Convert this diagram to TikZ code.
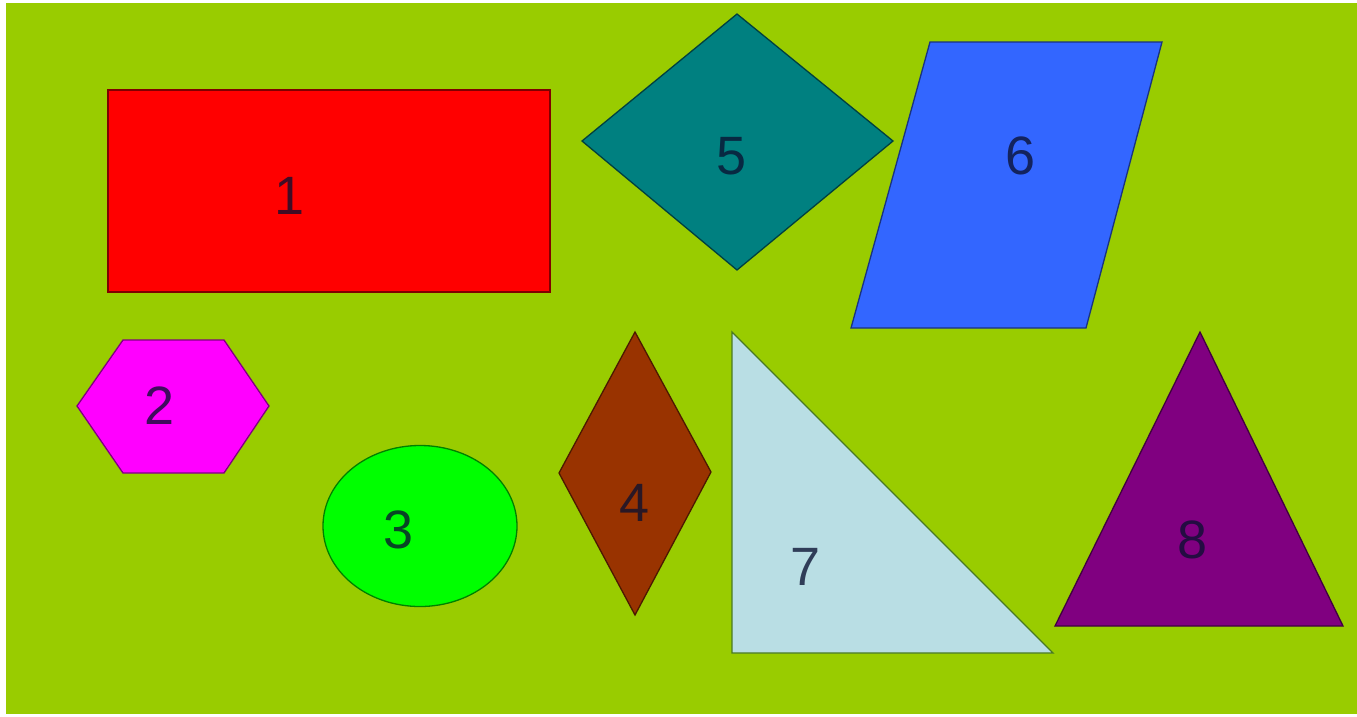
\documentclass[tikz,border=0pt]{standalone}
\usepackage{fontspec}
\setmainfont{Liberation Sans}
\definecolor{bggreen}{HTML}{99CC00}
\definecolor{cred}{HTML}{FF0000}
\definecolor{cmag}{HTML}{FF00FF}
\definecolor{cgreen}{HTML}{00FF00}
\definecolor{cbrown}{HTML}{993300}
\definecolor{cteal}{HTML}{008080}
\definecolor{cblue}{HTML}{3366FF}
\definecolor{clight}{HTML}{B9DEE4}
\definecolor{cpurple}{HTML}{800080}
\definecolor{txtnavy}{HTML}{0A1030}
\definecolor{edgeolive}{HTML}{4A7A20}
\tikzset{
  shp/.style={fill=#1, draw=#1!50!black, line width=1.3pt, line join=miter},
  lbl/.style={font=\fontsize{54}{60}\selectfont, text=#1!22!txtnavy, inner sep=0pt}
}
\begin{document}
\begin{tikzpicture}[x=1pt,y=-1pt]
\useasboundingbox (0,0) rectangle (1357,716);
\fill[white] (0,0) rectangle (1357,716);
\fill[bggreen] (6,3) rectangle (1357,714);
% 1 rectangle
\path[shp=cred] (108,90) rectangle (550,292);
\node[lbl=cred] (l1) at (290,196) {1};
% 2 hexagon
\path[shp=cmag] (123,340) -- (224,340) -- (269,406) -- (224,473) -- (123,473) -- (77,406) -- cycle;
\node[lbl=cmag] (l2) at (160,406) {2};
% 3 ellipse
\path[shp=cgreen] (420,526) ellipse [x radius=97, y radius=80.5];
\node[lbl=cgreen] (l3) at (399,530) {3};
% 4 rhombus
\path[shp=cbrown] (635,332) -- (711,472) -- (635,615) -- (559,473) -- cycle;
\node[lbl=cbrown] (l4) at (635,503) {4};
% 5 diamond
\path[shp=cteal] (737,14) -- (893,141) -- (737,270) -- (582,141) -- cycle;
\node[lbl=cteal] (l5) at (732,156) {5};
% 6 parallelogram
\path[shp=cblue] (930,42) -- (1162,42) -- (1086,328) -- (851,328) -- cycle;
\node[lbl=cblue] (l6) at (1021,156) {6};
% 7 right triangle
\path[shp=clight, draw=edgeolive] (732,332) -- (1053,653) -- (732,653) -- cycle;
\node[lbl=clight] (l7) at (806,567) {7};
% 8 triangle
\path[shp=cpurple] (1200,332) -- (1343,626) -- (1055,626) -- cycle;
\node[lbl=cpurple] (l8) at (1193,540) {8};
\end{tikzpicture}
\end{document}
